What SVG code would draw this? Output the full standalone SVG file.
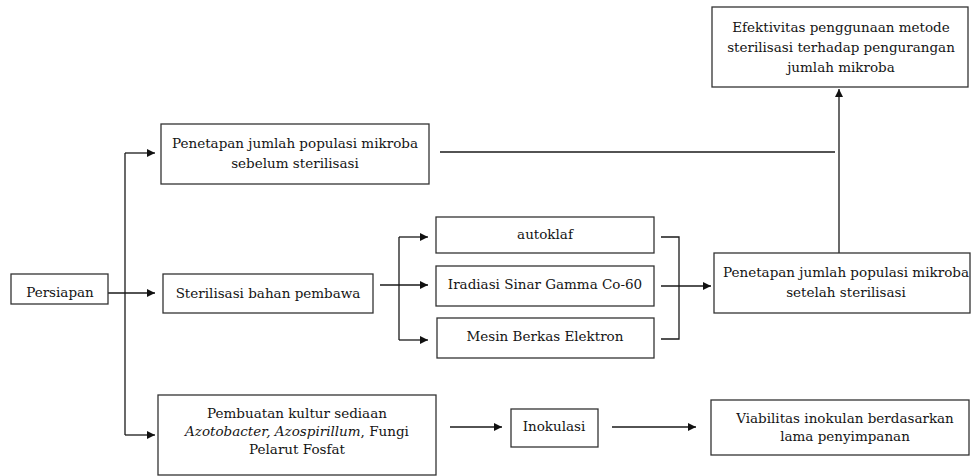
<svg xmlns="http://www.w3.org/2000/svg" width="971" height="476" viewBox="0 0 971 476">
<style>
.box{fill:#fff;stroke:#333;stroke-width:1.3}
.t{font-family:"DejaVu Serif","Liberation Serif",serif;font-size:13.5px;fill:#141414;text-anchor:middle}
.c{fill:none;stroke:#1a1a1a;stroke-width:1.3}
.a{marker-end:url(#ah)}
</style>
<defs>
<marker id="ah" viewBox="0 0 10 10" refX="10" refY="5" markerWidth="8" markerHeight="8" markerUnits="userSpaceOnUse" orient="auto">
<path d="M0,0 L10,5 L0,10 z" fill="#111"/>
</marker>
</defs>
<rect width="971" height="476" fill="#fff"/>
<g id="connectors">
<path class="c" d="M125,153 V435"/>
<path class="c a" d="M125,153 H155"/>
<path class="c a" d="M108,293 H155"/>
<path class="c a" d="M125,435 H155"/>
<path class="c" d="M399,237 V340"/>
<path class="c a" d="M380,285 H428"/>
<path class="c a" d="M399,237 H428"/>
<path class="c a" d="M399,340 H428"/>
<path class="c" d="M661,237 H679 V339 H661"/>
<path class="c a" d="M661,286 H711"/>
<path class="c" d="M440,152 H835"/>
<path class="c a" d="M839,253 V89"/>
<path class="c a" d="M450,427 H502"/>
<path class="c a" d="M612,427 H696"/>
</g>
<g id="efektivitas">
<rect class="box" x="712" y="7" width="256" height="80"/>
<text class="t" x="841" y="32">Efektivitas penggunaan metode</text>
<text class="t" x="841" y="52">sterilisasi terhadap pengurangan</text>
<text class="t" x="841" y="72">jumlah mikroba</text>
</g>
<g id="sebelum">
<rect class="box" x="161" y="124" width="268" height="60"/>
<text class="t" x="295" y="148">Penetapan jumlah populasi mikroba</text>
<text class="t" x="295" y="168">sebelum sterilisasi</text>
</g>
<g id="persiapan">
<rect class="box" x="11" y="274" width="97" height="30"/>
<text class="t" x="60" y="297">Persiapan</text>
</g>
<g id="sterilisasi">
<rect class="box" x="163" y="274" width="210" height="39"/>
<text class="t" x="268" y="298">Sterilisasi bahan pembawa</text>
</g>
<g id="autoklaf">
<rect class="box" x="436" y="217" width="218" height="36"/>
<text class="t" x="545" y="239">autoklaf</text>
</g>
<g id="iradiasi">
<rect class="box" x="436" y="266" width="218" height="40"/>
<text class="t" x="545" y="289">Iradiasi Sinar Gamma Co-60</text>
</g>
<g id="mesin">
<rect class="box" x="437" y="318" width="217" height="40"/>
<text class="t" x="545" y="341">Mesin Berkas Elektron</text>
</g>
<g id="setelah">
<rect class="box" x="714" y="253" width="256" height="60"/>
<text class="t" x="846" y="277">Penetapan jumlah populasi mikroba</text>
<text class="t" x="846" y="297">setelah sterilisasi</text>
</g>
<g id="pembuatan">
<rect class="box" x="158" y="395" width="278" height="80"/>
<text class="t" x="297" y="418">Pembuatan kultur sediaan</text>
<text class="t" x="297" y="436"><tspan font-style="italic">Azotobacter, Azospirillum</tspan>, Fungi</text>
<text class="t" x="297" y="454">Pelarut Fosfat</text>
</g>
<g id="inokulasi">
<rect class="box" x="511" y="409" width="87" height="38"/>
<text class="t" x="554" y="431">Inokulasi</text>
</g>
<g id="viabilitas">
<rect class="box" x="711" y="400" width="258" height="55"/>
<text class="t" x="845" y="423">Viabilitas inokulan berdasarkan</text>
<text class="t" x="845" y="441">lama penyimpanan</text>
</g>
</svg>
